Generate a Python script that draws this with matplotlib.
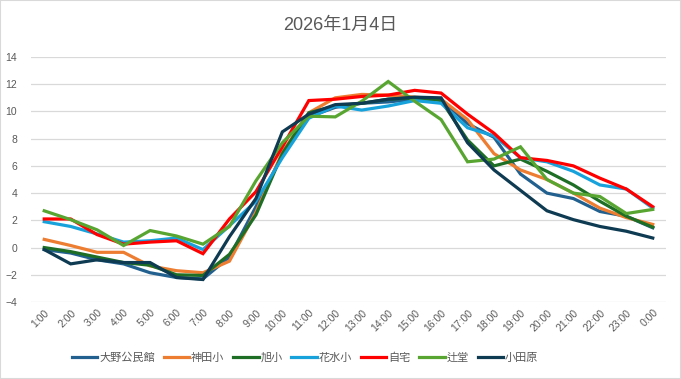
import matplotlib
matplotlib.use("Agg")
import matplotlib.pyplot as plt
from matplotlib.patches import Rectangle

plt.rcParams['font.family'] = ['Liberation Sans', 'Noto Sans CJK JP', 'DejaVu Sans']

hours = [f"{h}:00" for h in range(1, 24)] + ["0:00"]

onoda = [-0.15, -0.4, -0.9, -1.2, -1.85, -2.2, -2.3, -0.7, 3.0, 6.8, 9.6, 10.3,
         10.6, 10.7, 10.9, 10.9, 9.1, 8.1, 5.4, 4.0, 3.6, 2.65, 2.3, 1.45]
kanda = [0.6, 0.15, -0.35, -0.35, -1.35, -1.7, -1.85, -1.0, 2.6, 7.0, 9.9, 11.0,
         11.25, 11.2, 11.05, 10.9, 9.4, 6.9, 5.7, 5.0, 4.0, 2.9, 2.2, 1.7]
asahi = [0.0, -0.3, -0.7, -1.1, -1.3, -2.0, -2.05, -0.5, 2.4, 6.9, 9.9, 10.4,
         10.6, 10.9, 11.0, 10.8, 7.9, 6.0, 6.5, 5.6, 4.6, 3.4, 2.3, 1.5]
hanamizu = [1.9, 1.55, 1.0, 0.4, 0.5, 0.7, -0.15, 1.6, 3.4, 6.6, 9.5, 10.4,
            10.1, 10.4, 10.8, 10.6, 8.8, 8.2, 6.6, 6.3, 5.6, 4.6, 4.3, 2.9]
jitaku = [2.1, 2.1, 0.95, 0.25, 0.4, 0.5, -0.45, 2.1, 4.1, 7.4, 10.8, 10.9,
          11.1, 11.2, 11.55, 11.35, 9.8, 8.4, 6.6, 6.4, 6.0, 5.1, 4.3, 3.0]
tsujido = [2.7, 2.05, 1.3, 0.15, 1.25, 0.85, 0.25, 1.55, 4.9, 7.7, 9.65, 9.6,
           10.75, 12.2, 10.75, 9.4, 6.3, 6.5, 7.4, 5.0, 4.0, 3.75, 2.5, 2.8]
odawara = [-0.15, -1.2, -0.9, -1.1, -1.1, -2.2, -2.35, 0.8, 3.6, 8.5, 9.8, 10.5,
           10.6, 10.9, 11.05, 11.0, 7.7, 5.7, 4.2, 2.7, 2.05, 1.55, 1.2, 0.7]

series = [
    ("大野公民館", onoda, "#22608F"),
    ("神田小", kanda, "#ED7D31"),
    ("旭小", asahi, "#1E6E26"),
    ("花水小", hanamizu, "#18A2DC"),
    ("自宅", jitaku, "#FF0000"),
    ("辻堂", tsujido, "#58A631"),
    ("小田原", odawara, "#0E3A52"),
]

fig = plt.figure(figsize=(6.81, 3.79), dpi=100)
ax = fig.add_axes([31 / 681, 1 - 302 / 379, 635 / 681, 245 / 379])

x = list(range(len(hours)))
for name, vals, color in series:
    ax.plot(x, vals, color=color, linewidth=2.3, label=name, solid_joinstyle='miter')

ax.set_xlim(-0.5, len(hours) - 0.5)
ax.set_ylim(-4, 14)
ax.set_yticks(range(-4, 15, 2))
ax.set_xticks(x)
ax.set_xticklabels(hours, rotation=45, ha='right', rotation_mode='anchor')
ax.tick_params(axis='both', length=0, labelsize=7.5, labelcolor='#595959')
ax.tick_params(axis='y', pad=10)
ax.tick_params(axis='x', pad=4)
ax.grid(axis='y', color='#D9D9D9', linewidth=0.9)
ax.set_axisbelow(True)
for s in ax.spines.values():
    s.set_visible(False)

fig.text(0.5, 1 - 25 / 379, "2026年1月4日", ha='center', va='center',
         fontsize=13, color='#595959')

fig.legend(loc='center', bbox_to_anchor=(305 / 681, 1 - 358 / 379), ncol=7,
           frameon=False, fontsize=8, handlelength=2.3, handletextpad=0.15,
           columnspacing=0.8, labelcolor='#595959')

fig.patches.append(Rectangle((0, 0), 1, 1, transform=fig.transFigure, fill=False,
                             edgecolor='#D9D9D9', linewidth=1.5))

fig.savefig("out.png", dpi=100)
